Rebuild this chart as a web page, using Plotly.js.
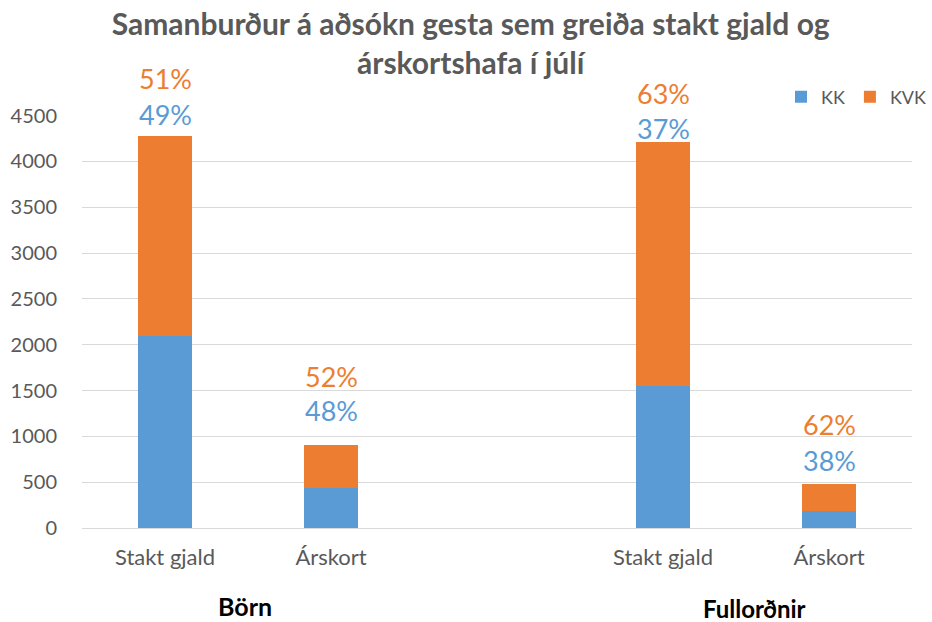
<!DOCTYPE html>
<html>
<head>
<meta charset="utf-8">
<script src="https://cdn.plot.ly/plotly-3.0.1.min.js"></script>
<style>html,body{margin:0;padding:0;background:#fff;}#chart{width:932px;height:622px;}</style>
</head>
<body>
<div id="chart"></div>
<script>
// Categories (x slots 0..4, slot 2 is the empty gap between groups)
const categories = ["Stakt gjald", "Árskort", "", "Stakt gjald", "Árskort"];
const barSlots = [0, 1, 3, 4];
const groups = ["Börn", "Fullorðnir"];
// Series values
const kk  = [2090, 435, 1548, 182];
const kvk = [2190, 470, 2665, 295];
// Percentage labels
const kkPct  = ["49%", "48%", "37%", "38%"];
const kvkPct = ["51%", "52%", "63%", "62%"];

const blue = "#5B9BD5", orange = "#ED7D31", grey = "#595959";
const font = "Lato, 'Open Sans', sans-serif";

const traces = [
  {type: "bar", name: "KK", x: barSlots, y: kk, marker: {color: blue}, width: 0.33, hoverinfo: "none"},
  {type: "bar", name: "KVK", x: barSlots, y: kvk, marker: {color: orange}, width: 0.33, hoverinfo: "none"}
];

// label placement offsets (pixels from bar top to label centre)
const kkShift  = [21, 35, 13, 24];
const kvkShift = [57, 69, 48, 60];

const annotations = [];
barSlots.forEach((s, i) => {
  const total = kk[i] + kvk[i];
  annotations.push({x: s, y: total, xref: "x", yref: "y", text: kkPct[i], showarrow: false,
    yanchor: "middle", yshift: kkShift[i], font: {family: font, size: 27, color: blue}});
  annotations.push({x: s, y: total, xref: "x", yref: "y", text: kvkPct[i], showarrow: false,
    yanchor: "middle", yshift: kvkShift[i], font: {family: font, size: 27, color: orange}});
});
annotations.push({x: 0.48, y: 0, xref: "x", yref: "paper", yshift: -78, yanchor: "middle", text: "<b>" + groups[0] + "</b>",
  showarrow: false, font: {family: font, size: 25, color: "#000"}});
annotations.push({x: 3.55, y: 0, xref: "x", yref: "paper", yshift: -80, yanchor: "middle", text: "<b>" + groups[1] + "</b>",
  showarrow: false, font: {family: font, size: 24, color: "#000"}});

const layout = {
  width: 932, height: 622,
  margin: {l: 82, r: 20, t: 115, b: 94},
  paper_bgcolor: "#fff", plot_bgcolor: "#fff",
  barmode: "stack",
  title: {text: "<b>Samanburður á aðsókn gesta sem greiða stakt gjald og<br>árskortshafa í júlí</b>",
    x: 0.505, xanchor: "center", yref: "container", y: 1 - 35 / 622, yanchor: "middle",
    font: {family: font, size: 30, color: grey}},
  xaxis: {range: [-0.5, 4.5], tickvals: [0, 1, 2, 3, 4], ticktext: categories,
    showgrid: false, zeroline: false, showline: true, linecolor: "#D9D9D9", linewidth: 1,
    ticks: "", ticklen: 0, ticklabelstandoff: 10, tickfont: {family: font, size: 22, color: grey}},
  yaxis: {range: [0, 4500], tickvals: [0,500,1000,1500,2000,2500,3000,3500,4000,4500],
    showgrid: true, gridcolor: "#D9D9D9", gridwidth: 1, zeroline: false, showline: false,
    ticks: "", ticklen: 0, ticklabelstandoff: 24, tickfont: {family: font, size: 20, color: grey}},
  showlegend: true,
  legend: {orientation: "h", xref: "container", x: 1.0, xanchor: "right",
    yref: "container", y: 1 - 97 / 622, yanchor: "middle",
    font: {family: font, size: 18, color: grey}, itemwidth: 30, traceorder: "normal"},
  annotations: annotations
};

Plotly.newPlot("chart", traces, layout, {displayModeBar: false, staticPlot: true});
</script>
</body>
</html>
